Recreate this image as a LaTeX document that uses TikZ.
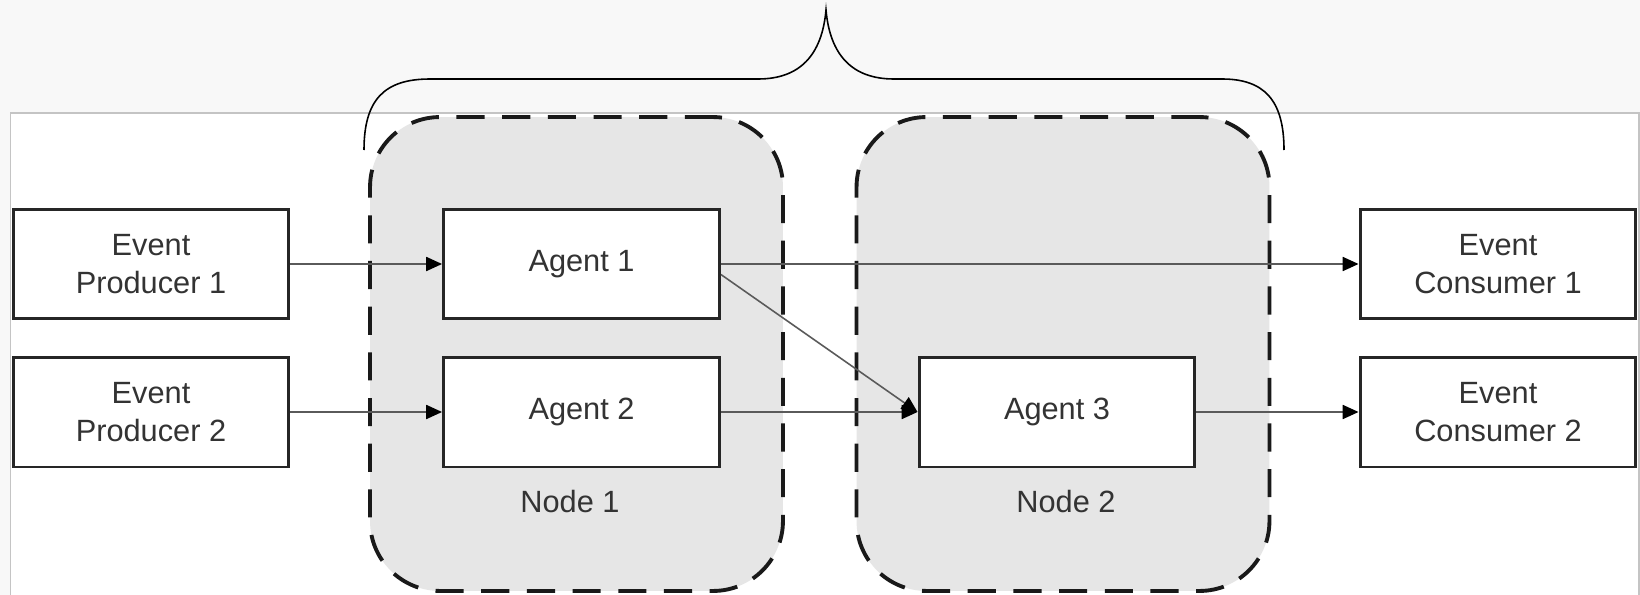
\documentclass[tikz,border=0pt]{standalone}
\usepackage{fontspec}
\setmainfont{Liberation Sans}
\usetikzlibrary{arrows.meta}
\definecolor{pagebg}{HTML}{F8F8F8}
\definecolor{clusterfill}{HTML}{E6E6E6}
\definecolor{framegray}{HTML}{C4C4C4}
\definecolor{txtgray}{HTML}{333333}
\definecolor{wiregray}{HTML}{5A5A5A}
\tikzset{
  compbox/.style={draw=black!85,line width=1.7pt,fill=white,minimum width=5.52cm,minimum height=2.2cm,
    align=center,text=txtgray,font=\fontsize{17.5}{22}\selectfont},
  cluster/.style={draw=black!90,line width=2.2pt,dash pattern=on 16pt off 10pt,fill=clusterfill,
    rounded corners=1.4cm,minimum width=8.26cm,minimum height=9.48cm},
  flow/.style={-{Triangle[length=9pt,width=8pt,color=black]},line width=0.9pt,draw=wiregray},
  clusterlbl/.style={text=txtgray,font=\fontsize{17.5}{22}\selectfont}
}
\begin{document}
\begin{tikzpicture}[x=0.02cm,y=-0.02cm]
\useasboundingbox (0,0) rectangle (1640,595);
\clip (0,0) rectangle (1640,595);
\fill[pagebg] (0,0) rectangle (1640,595);
% white frame
\draw[framegray,fill=white,line width=0.6pt] (10.5,113) rectangle (1639,620);
% the two nodes
\node[cluster] (node1) at (576.5,354) {};
\node[cluster] (node2) at (1063,354) {};
\node[clusterlbl] (node1lbl) at (570,502) {Node 1};
\node[clusterlbl] (node2lbl) at (1066,502) {Node 2};
% producers, agents, consumers
\node[compbox] (prod1) at (151,264) {Event\\Producer 1};
\node[compbox] (prod2) at (151,412) {Event\\Producer 2};
\node[compbox] (agent1) at (581.5,264) {Agent 1};
\node[compbox] (agent2) at (581.5,412) {Agent 2};
\node[compbox] (agent3) at (1057,412) {Agent 3};
\node[compbox] (cons1) at (1498,264) {Event\\Consumer 1};
\node[compbox] (cons2) at (1498,412) {Event\\Consumer 2};
% flows
\draw[flow] (prod1)--(agent1);
\draw[flow] (prod2)--(agent2);
\draw[flow] (agent1)--(cons1);
\draw[flow] (agent2)--(agent3);
\draw[flow] ([yshift=-6pt]agent1.east)--(agent3.west);
\draw[flow] (agent3)--(cons2);
% brace over both nodes
\coordinate (braceL) at (364,150);
\coordinate (braceTip) at (826,10);
\coordinate (braceR) at (1284,150);
\draw[line width=0.9pt] (braceL) .. controls (364,100) and (384,79) .. (430,79) -- (758,79)
  .. controls (800,79) and (822,55) .. (braceTip)
  .. controls (830,55) and (852,79) .. (894,79) -- (1222,79)
  .. controls (1264,79) and (1284,100) .. (braceR);
\end{tikzpicture}
\end{document}
